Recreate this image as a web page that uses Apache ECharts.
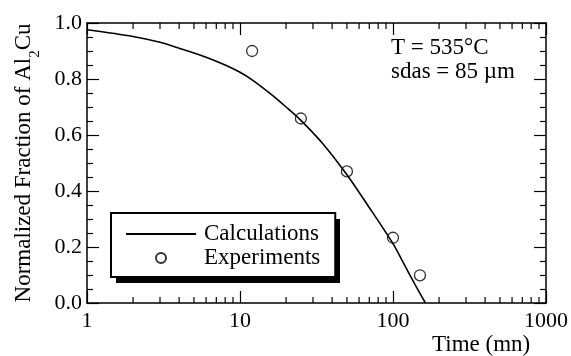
<!DOCTYPE html>
<html>
<head>
<meta charset="utf-8">
<script src="https://cdn.jsdelivr.net/npm/echarts@6/dist/echarts.min.js"></script>
<style>
  html, body { margin: 0; padding: 0; background: #fff; }
  #chart { width: 571px; height: 356px; }
</style>
</head>
<body>
<div id="chart"></div>
<script>
// Calculated dissolution curve of Al2Cu (time in minutes, normalized fraction)
const calcTime = [1, 2, 3, 4, 6, 8, 10, 12, 16, 20, 25, 35, 50, 68, 100, 117, 140, 163];
const calcFraction = [0.976, 0.952, 0.931, 0.910, 0.878, 0.850, 0.824, 0.797, 0.745, 0.700, 0.652, 0.567, 0.458, 0.351, 0.212, 0.143, 0.064, 0.0];

// Measured points
const expTime = [12, 25, 50, 100, 150];
const expFraction = [0.90, 0.659, 0.47, 0.233, 0.099];

// Axis labels and minor tick positions of the log time axis
const xTickLabels = ['1', '10', '100', '1000'];
const yTickLabels = ['0.0', '0.2', '0.4', '0.6', '0.8', '1.0'];
const xMinorTicks = [2, 3, 4, 5, 6, 7, 8, 9, 20, 30, 40, 50, 60, 70, 80, 90, 200, 300, 400, 500, 600, 700, 800, 900];

const FONT = 'Liberation Serif';

const chart = echarts.init(document.getElementById('chart'), null, { renderer: 'canvas' });

const axisLine = { show: true, onZero: false, lineStyle: { color: '#000', width: 1.5 } };

function logAxis(position, showLabels) {
  return {
    type: 'log',
    logBase: 10,
    min: 1,
    max: 1000,
    position: position,
    axisLine: axisLine,
    axisTick: { show: true, inside: true, length: 12, lineStyle: { color: '#000', width: 1.2 } },
    splitLine: { show: false },
    axisLabel: {
      show: showLabels,
      margin: 7,
      fontFamily: FONT,
      fontSize: 22,
      color: '#000',
      formatter: function (v) {
        const i = Math.round(Math.log10(v));
        return xTickLabels[i] !== undefined ? xTickLabels[i] : '';
      }
    }
  };
}

function fracAxis(position, showLabels, withName) {
  const ax = {
    type: 'value',
    min: 0,
    max: 1,
    interval: 0.2,
    position: position,
    axisLine: axisLine,
    axisTick: { show: true, inside: true, length: 12, lineStyle: { color: '#000', width: 1.2 } },
    minorTick: { show: true, splitNumber: 4, length: 6, lineStyle: { color: '#000', width: 1.2 } },
    splitLine: { show: false },
    axisLabel: {
      show: showLabels,
      margin: 5,
      fontFamily: FONT,
      fontSize: 22,
      color: '#000',
      formatter: function (v) {
        return yTickLabels[Math.round(v / 0.2)];
      }
    }
  };
  if (withName) {
    ax.name = '{a|Normalized Fraction of Al}{s|2}{a|Cu}';
    ax.nameLocation = 'middle';
    ax.nameRotate = 90;
    ax.nameGap = 50;
    ax.nameTextStyle = {
      rich: {
        a: { fontFamily: FONT, fontSize: 23, color: '#000', lineHeight: 26 },
        s: { fontFamily: FONT, fontSize: 15, color: '#000', lineHeight: 26, verticalAlign: 'bottom', padding: [0, 0, -6, 0] }
      }
    };
  }
  return ax;
}

const option = {
  animation: false,
  backgroundColor: '#fff',
  grid: { left: 87, right: 25, top: 23, bottom: 53 },
  xAxis: [logAxis('bottom', true), logAxis('top', false)],
  yAxis: [fracAxis('left', true, true), fracAxis('right', false, false)],
  legend: {
    orient: 'vertical',
    left: 111,
    top: 213,
    z: 10,
    padding: [9, 15, 7, 14],
    itemWidth: 70,
    itemHeight: 10,
    itemGap: 0,
    selectedMode: false,
    backgroundColor: '#fff',
    borderColor: '#000',
    borderWidth: 2,
    borderRadius: 0,
    textStyle: { fontFamily: FONT, fontSize: 23, color: '#000', lineHeight: 24, padding: [0, 0, 0, 3] },
    data: [
      { name: 'Calculations', itemStyle: { color: 'rgba(0,0,0,0)', borderColor: 'rgba(0,0,0,0)', borderWidth: 0, opacity: 0 } },
      { name: 'Experiments' }
    ]
  },
  graphic: [
    {
      // drop shadow under the legend box
      type: 'rect',
      z: 1,
      shape: { x: 116, y: 219, width: 224, height: 64 },
      style: { fill: '#000' }
    },
    {
      type: 'text',
      left: 391,
      top: 36,
      style: {
        text: 'T = 535°C\nsdas = 85 µm',
        fontFamily: FONT,
        fontSize: 23,
        lineHeight: 24,
        fill: '#000'
      }
    },
    {
      type: 'text',
      left: 432,
      top: 333,
      style: {
        text: 'Time (mn)',
        fontFamily: FONT,
        fontSize: 23,
        fill: '#000'
      }
    }
  ],
  series: [
    {
      name: 'Calculations',
      type: 'line',
      xAxisIndex: 0,
      yAxisIndex: 0,
      data: calcTime.map((t, i) => [t, calcFraction[i]]),
      symbol: 'none',
      smooth: 0.3,
      lineStyle: { color: '#000', width: 1.6 },
      itemStyle: { color: '#000' },
      z: 3
    },
    {
      name: 'Experiments',
      type: 'scatter',
      xAxisIndex: 0,
      yAxisIndex: 0,
      data: expTime.map((t, i) => [t, expFraction[i]]),
      symbol: 'circle',
      symbolSize: 11,
      itemStyle: { color: 'rgba(255,255,255,0)', borderColor: '#000', borderWidth: 1.3 },
      z: 4
    },
    {
      // minor ticks of the log time axis, drawn inward on bottom and top edges
      name: 'minorTicks',
      type: 'custom',
      xAxisIndex: 0,
      yAxisIndex: 0,
      silent: true,
      clip: false,
      data: xMinorTicks.map(v => [v, 0]),
      encode: { x: 0, y: 1 },
      renderItem: function (params, api) {
        const x = api.coord([api.value(0), 0])[0];
        const cs = params.coordSys;
        const yb = cs.y + cs.height;
        const style = { stroke: '#000', lineWidth: 1.2 };
        return {
          type: 'group',
          children: [
            { type: 'line', shape: { x1: x, y1: yb, x2: x, y2: yb - 6 }, style: style },
            { type: 'line', shape: { x1: x, y1: cs.y, x2: x, y2: cs.y + 6 }, style: style }
          ]
        };
      },
      z: 2
    }
  ]
};

chart.setOption(option);
</script>
</body>
</html>
